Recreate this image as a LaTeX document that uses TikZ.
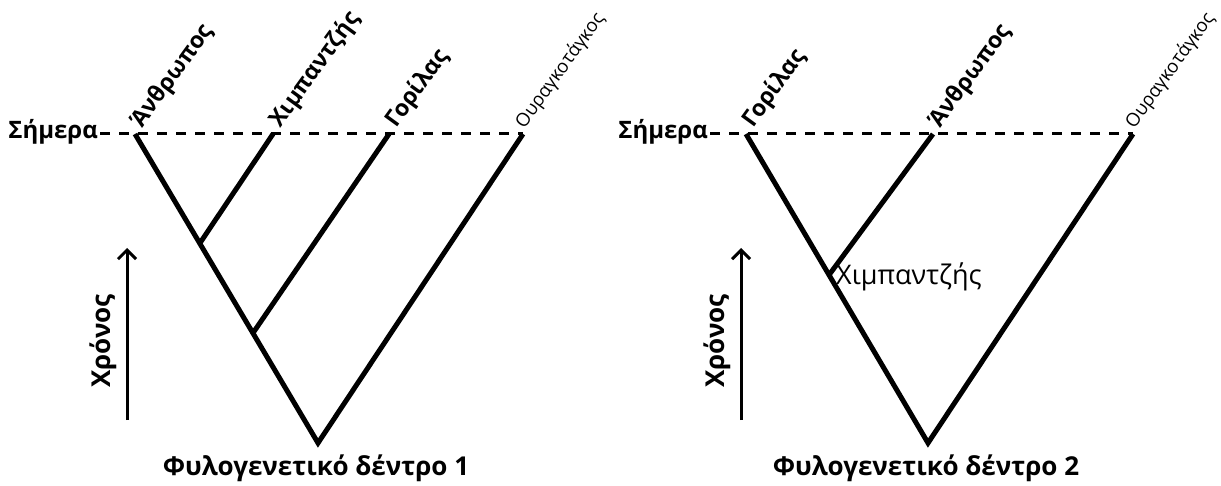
\documentclass[tikz,border=0pt]{standalone}
\usepackage{fontspec}
\setmainfont{Open Sans}
\usetikzlibrary{arrows.meta}

\begin{document}
\begin{tikzpicture}[x=1pt,y=-1pt,
    branch/.style={line width=5pt,line join=miter},
    today/.style={line width=3pt,dash pattern=on 10pt off 9pt},
    timeaxis/.style={line width=3pt,-{Straight Barb[length=9pt,width=18pt,line width=3pt]}},
    leaf/.style={anchor=south west,rotate=54,inner sep=0pt,font=\bfseries\fontsize{23}{23}\selectfont},
    smallleaf/.style={anchor=south west,rotate=54,inner sep=0pt,font=\fontsize{18.5}{18.5}\selectfont},
    lbl/.style={inner sep=0pt,font=\bfseries\fontsize{24}{24}\selectfont},
    title/.style={inner sep=0pt,font=\bfseries\fontsize{26}{26}\selectfont}]
    \useasboundingbox (0,0) rectangle (1221,486);
                % tree 1
                \coordinate (start1) at (100,134);
                \coordinate (anthr1) at (135,134);
                \coordinate (chimp1) at (273,134);
                \coordinate (goril1) at (389,134);
                \coordinate (orang1) at (523,134);
                \coordinate (root1) at (318,443);
                \coordinate (split1) at (200,243);
                \coordinate (split2) at (253,333);
                \draw[today] (start1) -- (orang1);
                \draw[branch] (anthr1) -- (root1) -- (orang1);
                \draw[branch] (split1) -- (chimp1);
                \draw[branch] (split2) -- (goril1);
                \node[shift={(12,-2)},leaf] (anthr1lbl) at (anthr1) {Άνθρωπος};
                \node[shift={(12,-2)},leaf] (chimp1lbl) at (chimp1) {Χιμπαντζής};
                \node[shift={(12,-2)},leaf] (goril1lbl) at (goril1) {Γορίλας};
                \node[shift={(5,-2)},smallleaf] (orang1lbl) at (orang1) {Ουραγκοτάγκος};
                \node[lbl,anchor=base east] (today1) at (98,139) {Σήμερα};
                \coordinate (tlow1) at (127,420);
                \coordinate (thigh1) at (127,248);
                \draw[timeaxis] (tlow1) -- (thigh1);
                \node[lbl,rotate=90,font=\bfseries\fontsize{26}{26}\selectfont] (time1) at (103,341) {Χρόνος};
                \node[title] (title1) at (316,468) {Φυλογενετικό δέντρο 1};
                % tree 2
                \coordinate (start2) at (710,134);
                \coordinate (goril2) at (746,134);
                \coordinate (anthr2) at (933,134);
                \coordinate (orang2) at (1133,134);
                \coordinate (root2) at (928,443);
                \coordinate (split3) at (829,275);
                \draw[today] (start2) -- (orang2);
                \draw[branch] (goril2) -- (root2) -- (orang2);
                \draw[branch] (split3) -- (anthr2);
                \node[shift={(12,-2)},leaf] (goril2lbl) at (goril2) {Γορίλας};
                \node[shift={(12,-2)},leaf] (anthr2lbl) at (anthr2) {Άνθρωπος};
                \node[shift={(5,-2)},smallleaf] (orang2lbl) at (orang2) {Ουραγκοτάγκος};
                \node[inner sep=0pt,anchor=west,font=\fontsize{27}{27}\selectfont] (chimp2lbl) at (836,277) {Χιμπαντζής};
                \node[lbl,anchor=base east] (today2) at (708,139) {Σήμερα};
                \coordinate (tlow2) at (741,420);
                \coordinate (thigh2) at (741,248);
                \draw[timeaxis] (tlow2) -- (thigh2);
                \node[lbl,rotate=90,font=\bfseries\fontsize{26}{26}\selectfont] (time2) at (717,341) {Χρόνος};
                \node[title] (title2) at (926,468) {Φυλογενετικό δέντρο 2};
\end{tikzpicture}
\end{document}
